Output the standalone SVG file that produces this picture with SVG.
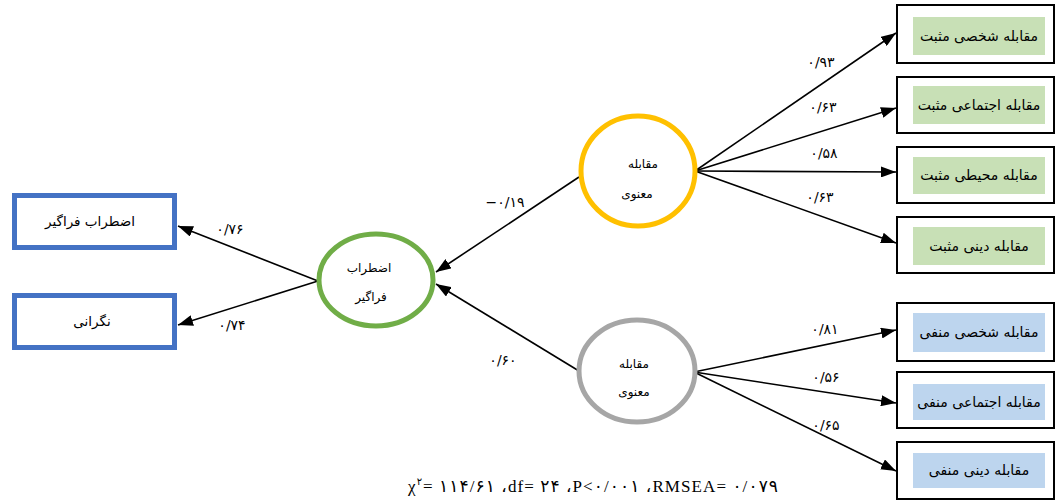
<svg xmlns="http://www.w3.org/2000/svg" width="1056" height="501" viewBox="0 0 1056 501">
<style>
.outer{fill:#fff;stroke:#000;stroke-width:2}
.green{fill:#C8E0B6}
.blue{fill:#BDD5EE}
.lbox{fill:#fff;stroke:#4472C4;stroke-width:5}
.fa{font-family:"DejaVu Sans",sans-serif;fill:#000;text-anchor:middle}
.bt{font-size:14px}
.lt{font-size:13.5px}
.et{font-size:12px}
.num{font-family:"DejaVu Sans",sans-serif;font-size:14px;text-anchor:middle;fill:#000}
.conn{stroke:#000;stroke-width:1.6;fill:none;marker-end:url(#ah)}
</style>
<defs>
<marker id="ah" viewBox="0 0 15 11" refX="15" refY="5.5" markerWidth="15" markerHeight="11" markerUnits="userSpaceOnUse" orient="auto">
<path d="M0,0 L15,5.5 L0,11 z" fill="#000"/>
</marker>
</defs>
<rect width="1056" height="501" fill="#fff"/>

<g id="connectors">
<line class="conn" x1="695" y1="171" x2="896" y2="33"/>
<line class="conn" x1="695" y1="171" x2="896" y2="108"/>
<line class="conn" x1="695" y1="171" x2="896" y2="172"/>
<line class="conn" x1="695" y1="171" x2="896" y2="243"/>
<line class="conn" x1="694" y1="372" x2="896" y2="330"/>
<line class="conn" x1="694" y1="372" x2="896" y2="403"/>
<line class="conn" x1="694" y1="372" x2="896" y2="471"/>
<line class="conn" x1="579" y1="177" x2="436" y2="272"/>
<line class="conn" x1="579" y1="371" x2="436" y2="284"/>
<line class="conn" x1="318" y1="281" x2="178" y2="226"/>
<line class="conn" x1="318" y1="281" x2="178" y2="325"/>
<text class="num" x="821" y="67">۰/۹۳</text>
<text class="num" x="823" y="112">۰/۶۳</text>
<text class="num" x="824" y="158">۰/۵۸</text>
<text class="num" x="820" y="202">۰/۶۳</text>
<text class="num" x="825" y="334">۰/۸۱</text>
<text class="num" x="826" y="382">۰/۵۶</text>
<text class="num" x="826" y="430">۰/۶۵</text>
<text class="num" x="505" y="207">−۰/۱۹</text>
<text class="num" x="503" y="365">۰/۶۰</text>
<text class="num" x="230" y="234">۰/۷۶</text>
<text class="num" x="232" y="330">۰/۷۴</text>
</g>

<g id="n-pos1"><rect class="outer" x="897" y="5" width="157" height="58"/><rect class="green" x="913" y="17" width="132" height="38"/><text class="fa bt" x="979" y="41">مقابله شخصی مثبت</text></g>
<g id="n-pos2"><rect class="outer" x="897" y="77" width="157" height="56"/><rect class="green" x="913" y="86" width="132" height="38"/><text class="fa bt" x="979" y="110">مقابله اجتماعی مثبت</text></g>
<g id="n-pos3"><rect class="outer" x="897" y="147" width="157" height="56"/><rect class="green" x="913" y="157" width="132" height="37"/><text class="fa bt" x="979" y="180">مقابله محیطی مثبت</text></g>
<g id="n-pos4"><rect class="outer" x="897" y="217" width="157" height="56"/><rect class="green" x="913" y="227" width="132" height="38"/><text class="fa bt" x="979" y="251">مقابله دینی مثبت</text></g>
<g id="n-neg1"><rect class="outer" x="897" y="303" width="157" height="58"/><rect class="blue" x="913" y="313" width="132" height="39"/><text class="fa bt" x="979" y="337">مقابله شخصی منفی</text></g>
<g id="n-neg2"><rect class="outer" x="897" y="372" width="157" height="56"/><rect class="blue" x="913" y="384" width="132" height="36"/><text class="fa bt" x="979" y="407">مقابله اجتماعی منفی</text></g>
<g id="n-neg3"><rect class="outer" x="897" y="442" width="157" height="57"/><rect class="blue" x="913" y="453" width="132" height="35"/><text class="fa bt" x="979" y="475">مقابله دینی منفی</text></g>

<g id="n-spir-pos"><ellipse cx="638" cy="171" rx="57" ry="55" fill="#fff" stroke="#FFC000" stroke-width="5"/><text class="fa et" x="643" y="168">مقابله</text><text class="fa et" x="637" y="198">معنوی</text></g>
<g id="n-spir-neg"><ellipse cx="637" cy="371" rx="58" ry="51" fill="#fff" stroke="#A6A6A6" stroke-width="5"/><text class="fa et" x="634" y="368">مقابله</text><text class="fa et" x="634" y="396">معنوی</text></g>
<g id="n-gad"><ellipse cx="376" cy="280" rx="57" ry="46" fill="#fff" stroke="#70AD47" stroke-width="5"/><text class="fa et" x="369" y="272">اضطراب</text><text class="fa et" x="371" y="301">فراگیر</text></g>

<g id="n-gad-obs"><rect class="lbox" x="14.5" y="195.5" width="160" height="52"/><text class="fa lt" x="90" y="226">اضطراب فراگیر</text></g>
<g id="n-worry"><rect class="lbox" x="14.5" y="295.5" width="160" height="52"/><text class="fa lt" x="92" y="326">نگرانی</text></g>

<g id="fit">
<text x="408" y="492" font-family="'Liberation Serif','DejaVu Sans',serif" font-size="17" fill="#000" textLength="370" lengthAdjust="spacing">χ<tspan font-size="10" dy="-7">۲</tspan><tspan dy="7">= ۱۱۴/۶۱ ،df= ۲۴ ،P&lt;۰/۰۰۱ ،RMSEA= ۰/۰۷۹</tspan></text>
</g>
</svg>
